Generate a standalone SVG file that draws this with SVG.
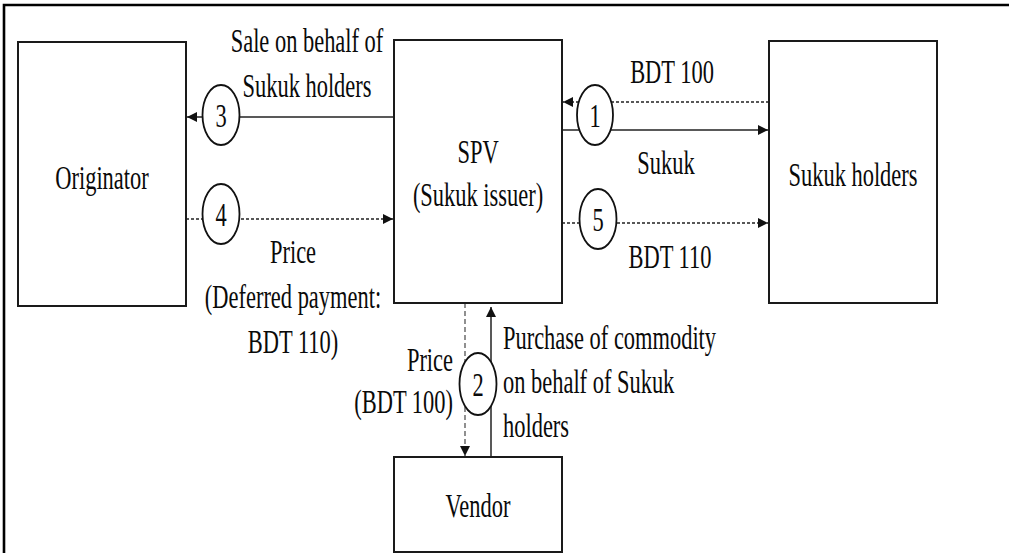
<svg xmlns="http://www.w3.org/2000/svg" width="1009" height="553" viewBox="0 0 1009 553">
  <style>
    .box { fill: #fff; stroke: #1a1a1a; stroke-width: 2; }
    .frame { fill: none; stroke: #000; stroke-width: 2.6; }
    .solid { fill: none; stroke: #222; stroke-width: 1.5; }
    .dash { fill: none; stroke: #222; stroke-width: 1.4; stroke-dasharray: 3 2; }
    .dash-v { fill: none; stroke: #555; stroke-width: 1.3; stroke-dasharray: 5 3; }
    .step { fill: #fff; stroke: #111; stroke-width: 1.8; }
    .t { font-family: 'Liberation Serif', 'DejaVu Serif', serif; font-size: 34px; fill: #0a0a0a; }
    .c { text-anchor: middle; }
    .r { text-anchor: end; }
    .l { text-anchor: start; }
  </style>
  <defs>
    <marker id="head" viewBox="0 0 10 10" refX="10" refY="5" markerWidth="10" markerHeight="10" markerUnits="userSpaceOnUse" orient="auto">
      <path d="M0,0 L10,5 L0,10 z" fill="#111"/>
    </marker>
  </defs>

  <rect width="1009" height="553" fill="#fff"/>
  <!-- open frame: top and left edges only -->
  <path class="frame" d="M4,553 V5 H1009"/>

  <!-- connectors -->
  <g id="connectors">
    <!-- 3: sale to originator -->
    <line class="solid" x1="394" y1="117" x2="187" y2="117" marker-end="url(#head)"/>
    <!-- 4: deferred price to SPV -->
    <line class="dash" x1="186" y1="219" x2="393" y2="219" marker-end="url(#head)"/>
    <!-- 1: BDT 100 to SPV, Sukuk to holders -->
    <line class="dash" x1="769" y1="102" x2="563" y2="102" marker-end="url(#head)"/>
    <line class="solid" x1="562" y1="130" x2="768" y2="130" marker-end="url(#head)"/>
    <!-- 5: BDT 110 to holders -->
    <line class="dash" x1="562" y1="223" x2="768" y2="223" marker-end="url(#head)"/>
    <!-- 2: price to vendor, commodity to SPV -->
    <line class="dash-v" x1="465" y1="303" x2="465" y2="456" marker-end="url(#head)"/>
    <line class="solid" x1="491" y1="457" x2="491" y2="307" marker-end="url(#head)"/>

    <g id="step-3">
      <ellipse class="step" cx="221" cy="115" rx="18.5" ry="30"/>
      <text class="t c" transform="translate(221,127) scale(0.66,1)">3</text>
    </g>
    <g id="step-4">
      <ellipse class="step" cx="221" cy="214" rx="18.5" ry="30"/>
      <text class="t c" transform="translate(221,226) scale(0.66,1)">4</text>
    </g>
    <g id="step-1">
      <ellipse class="step" cx="595" cy="115" rx="18" ry="30"/>
      <text class="t c" transform="translate(595,127) scale(0.66,1)">1</text>
    </g>
    <g id="step-5">
      <ellipse class="step" cx="598" cy="219" rx="18.5" ry="30"/>
      <text class="t c" transform="translate(598,231) scale(0.66,1)">5</text>
    </g>
    <g id="step-2">
      <ellipse class="step" cx="478" cy="384" rx="18.5" ry="31"/>
      <text class="t c" transform="translate(478,396) scale(0.66,1)">2</text>
    </g>

    <!-- labels -->
    <text class="t c" transform="translate(307,52) scale(0.66,1)">Sale on behalf of<tspan x="0" dy="45">Sukuk holders</tspan></text>
    <text class="t c" transform="translate(293,263) scale(0.66,1)">Price<tspan x="0" dy="45">(Deferred payment:</tspan><tspan x="0" dy="45">BDT 110)</tspan></text>
    <text class="t c" transform="translate(672,83) scale(0.66,1)">BDT 100</text>
    <text class="t c" transform="translate(666,174) scale(0.66,1)">Sukuk</text>
    <text class="t c" transform="translate(670,268) scale(0.66,1)">BDT 110</text>
    <text class="t r" transform="translate(453,371) scale(0.66,1)">Price<tspan x="0" dy="42">(BDT 100)</tspan></text>
    <text class="t l" transform="translate(503,349) scale(0.66,1)">Purchase of commodity<tspan x="0" dy="44">on behalf of Sukuk</tspan><tspan x="0" dy="44">holders</tspan></text>
  </g>

  <!-- nodes -->
  <g id="originator">
    <rect class="box" x="18" y="42" width="168" height="264"/>
    <text class="t c" transform="translate(102,189) scale(0.66,1)">Originator</text>
  </g>
  <g id="spv">
    <rect class="box" x="394" y="40" width="168" height="263"/>
    <text class="t c" transform="translate(478,163) scale(0.66,1)">SPV<tspan x="0" dy="43">(Sukuk issuer)</tspan></text>
  </g>
  <g id="sukuk-holders">
    <rect class="box" x="769" y="41" width="168" height="262"/>
    <text class="t c" transform="translate(853,186) scale(0.66,1)">Sukuk holders</text>
  </g>
  <g id="vendor">
    <rect class="box" x="394" y="457" width="168" height="95"/>
    <text class="t c" transform="translate(478,517) scale(0.66,1)">Vendor</text>
  </g>
</svg>
